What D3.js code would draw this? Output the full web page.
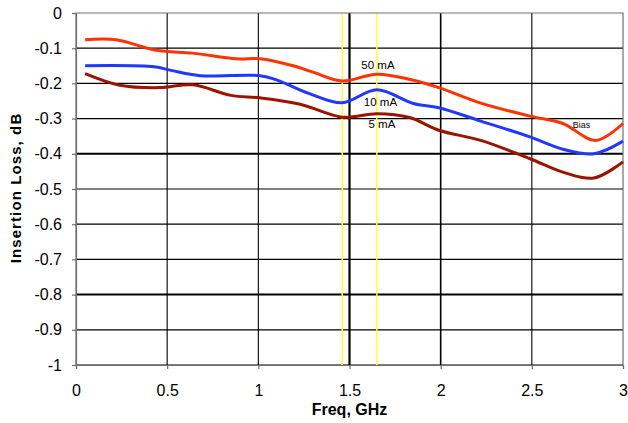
<!DOCTYPE html>
<html>
<head>
<meta charset="utf-8">
<script src="https://cdn.jsdelivr.net/npm/d3@7"></script>
<style>
  body { margin: 0; background: #fff; }
  svg { font-family: "Liberation Sans", Arial, sans-serif; }
</style>
</head>
<body>
<div id="chart"></div>
<script>
var freq50 = [0.05, 0.22, 0.44, 0.64, 0.88, 1.01, 1.19, 1.30, 1.46, 1.65, 1.85, 1.99, 2.22, 2.49, 2.67, 2.85, 3.0];
var loss50 = [-0.076, -0.076, -0.106, -0.114, -0.13, -0.13, -0.15, -0.168, -0.193, -0.174, -0.191, -0.212, -0.256, -0.293, -0.314, -0.362, -0.314];
var freq10 = [0.05, 0.43, 0.52, 0.68, 1.01, 1.10, 1.28, 1.46, 1.65, 1.85, 1.99, 2.22, 2.49, 2.67, 2.84, 3.0];
var loss10 = [-0.15, -0.153, -0.163, -0.178, -0.178, -0.19, -0.229, -0.255, -0.218, -0.257, -0.269, -0.307, -0.352, -0.387, -0.40, -0.364];
var freq5 = [0.05, 0.24, 0.46, 0.64, 0.85, 1.01, 1.23, 1.46, 1.65, 1.83, 1.99, 2.22, 2.49, 2.67, 2.84, 3.0];
var loss5 = [-0.172, -0.205, -0.212, -0.204, -0.234, -0.241, -0.259, -0.296, -0.286, -0.297, -0.333, -0.362, -0.414, -0.452, -0.469, -0.423];
var xTicks = [0, 0.5, 1, 1.5, 2, 2.5, 3];
var yTicks = [0, -0.1, -0.2, -0.3, -0.4, -0.5, -0.6, -0.7, -0.8, -0.9, -1];
var markers = [1.46, 1.65];

var width = 628, height = 423;
var margin = {top: 13, right: 5, bottom: 58, left: 76};

var svg = d3.select("#chart").append("svg")
    .attr("width", width)
    .attr("height", height);

var x = d3.scaleLinear().domain([0, 3]).range([margin.left, width - margin.right]);
var y = d3.scaleLinear().domain([-1, 0]).range([height - margin.bottom, margin.top]);

// grid
svg.append("g").selectAll("line")
    .data(yTicks.slice(1))
    .enter().append("line")
    .attr("x1", x(0)).attr("x2", x(3))
    .attr("y1", function(d){ return y(d); })
    .attr("y2", function(d){ return y(d); })
    .attr("stroke", "#000")
    .attr("stroke-width", function(d){ return (d == -0.4 || d == -0.8) ? 2 : 1.2; });

svg.append("g").selectAll("line")
    .data(xTicks.slice(1, -1))
    .enter().append("line")
    .attr("y1", y(0)).attr("y2", y(-1))
    .attr("x1", function(d){ return x(d); })
    .attr("x2", function(d){ return x(d); })
    .attr("stroke", "#000")
    .attr("stroke-width", function(d){ return d == 1.5 ? 2.2 : (d == 2 ? 1.6 : 1.1); });

// yellow marker lines
svg.append("g").selectAll("line")
    .data(markers)
    .enter().append("line")
    .attr("y1", y(0)).attr("y2", y(-1))
    .attr("x1", function(d){ return x(d); })
    .attr("x2", function(d){ return x(d); })
    .attr("stroke", "#ffff33")
    .attr("stroke-width", 1.5);

// frame
svg.append("path")
    .attr("d", "M" + x(0) + "," + y(-1) + "V" + y(0) + "H" + x(3) + "V" + y(-1))
    .attr("fill", "none")
    .attr("stroke", "#707070")
    .attr("stroke-width", 1.2);

// axes
var yAxis = d3.axisLeft(y).tickValues(yTicks).tickSize(4).tickPadding(10)
    .tickFormat(function(d){ return d == 0 ? "0" : String(d); });
var xAxis = d3.axisBottom(x).tickValues(xTicks).tickSize(4).tickPadding(16)
    .tickFormat(function(d){ return String(d); });

var gy = svg.append("g").attr("transform", "translate(" + x(0) + ",0)").call(yAxis);
var gx = svg.append("g").attr("transform", "translate(0," + y(-1) + ")").call(xAxis);
[gx, gy].forEach(function(g){
  g.select(".domain").attr("stroke", "#707070").attr("stroke-width", 1.2);
  g.selectAll(".tick line").attr("stroke", "#707070").attr("stroke-width", 1.2);
  g.selectAll(".tick text").attr("fill", "#000")
    .style("font-family", "Liberation Sans, Arial, sans-serif")
    .style("font-size", "16px");
});

// curves
var line = d3.line()
    .x(function(d){ return x(d[0]); })
    .y(function(d){ return y(d[1]); })
    .curve(d3.curveCatmullRom.alpha(0.5));

var series = [
  {f: freq5, v: loss5, color: "#9a1400"},
  {f: freq10, v: loss10, color: "#2038ff"},
  {f: freq50, v: loss50, color: "#ff3300"}
];
series.forEach(function(s){
  svg.append("path")
    .datum(d3.zip(s.f, s.v))
    .attr("d", line)
    .attr("fill", "none")
    .attr("stroke", s.color)
    .attr("stroke-width", 3);
});

// curve labels
var labels = [
  {t: "50 mA", f: 1.656, v: -0.16, size: 11.5},
  {t: "10 mA", f: 1.67, v: -0.264, size: 11.5},
  {t: "5 mA", f: 1.678, v: -0.327, size: 11.5},
  {t: "Bias", f: 2.772, v: -0.327, size: 9}
];
svg.append("g").selectAll("text")
    .data(labels)
    .enter().append("text")
    .attr("x", function(d){ return x(d.f); })
    .attr("y", function(d){ return y(d.v); })
    .attr("text-anchor", "middle")
    .style("font-size", function(d){ return d.size + "px"; })
    .text(function(d){ return d.t; });

// titles
svg.append("text")
    .attr("x", x(1.5)).attr("y", 415)
    .attr("text-anchor", "middle")
    .style("font-size", "16px").style("font-weight", "bold")
    .text("Freq, GHz");

svg.append("text")
    .attr("transform", "translate(20.5,188) rotate(-90)")
    .attr("text-anchor", "middle")
    .style("font-size", "15px").style("font-weight", "bold")
    .style("letter-spacing", "1.1px")
    .text("Insertion Loss, dB");
</script>
</body>
</html>
